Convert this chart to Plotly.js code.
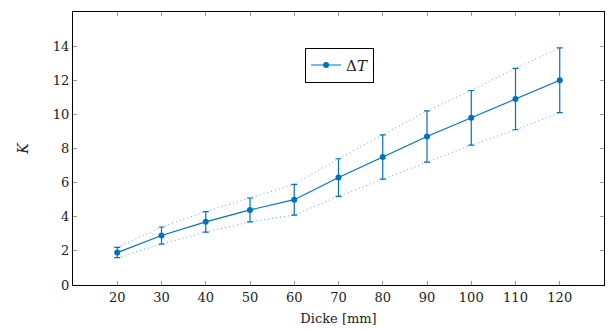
<!DOCTYPE html>
<html>
<head>
<meta charset="utf-8">
<script src="https://cdn.plot.ly/plotly-3.0.1.min.js"></script>
<style>html,body{margin:0;padding:0;background:#fff;}#chart{width:608px;height:331px;}</style>
</head>
<body>
<div id="chart"></div>
<script>
const thickness = [20, 30, 40, 50, 60, 70, 80, 90, 100, 110, 120];
const deltaT = [1.9, 2.9, 3.7, 4.4, 5.0, 6.3, 7.5, 8.7, 9.8, 10.9, 12.0];
const errT = [0.3, 0.5, 0.6, 0.7, 0.9, 1.1, 1.3, 1.5, 1.6, 1.8, 1.9];
const xTicks = [20, 30, 40, 50, 60, 70, 80, 90, 100, 110, 120];
const yTicks = [0, 2, 4, 6, 8, 10, 12, 14];

const blue = '#0072BD';
const lightBlue = '#5fa8dc';
const upper = deltaT.map((v, i) => v + errT[i]);
const lower = deltaT.map((v, i) => v - errT[i]);
const font = 'DejaVu Serif';

const traces = [
  {x: thickness, y: upper, mode: 'lines', line: {color: lightBlue, width: 1, dash: '1px,3px'}, showlegend: false, hoverinfo: 'skip'},
  {x: thickness, y: lower, mode: 'lines', line: {color: lightBlue, width: 1, dash: '1px,3px'}, showlegend: false, hoverinfo: 'skip'},
  {x: thickness, y: deltaT, mode: 'lines+markers', name: 'Δ<i>T</i>',
   line: {color: blue, width: 1.2}, marker: {color: blue, size: 6},
   error_y: {type: 'data', array: errT, visible: true, color: blue, thickness: 1.2, width: 3}}
];

const axisCommon = {
  showline: true, linecolor: '#000', linewidth: 1, mirror: 'ticks',
  ticks: 'inside', ticklen: 4, tickcolor: '#999', tickwidth: 1,
  showgrid: false, zeroline: false, tickfont: {family: font, size: 13, color: '#222'}
};

const layout = {
  width: 608, height: 331,
  margin: {l: 73, r: 4, t: 12, b: 46},
  paper_bgcolor: '#fff', plot_bgcolor: '#fff',
  font: {family: font, color: '#222'},
  xaxis: Object.assign({}, axisCommon, {range: [10, 130], tickmode: 'array', tickvals: xTicks, ticktext: xTicks.map(String),
    title: {text: 'Dicke [mm]', font: {family: font, size: 13, color: '#222'}, standoff: 10}}),
  yaxis: Object.assign({}, axisCommon, {range: [0, 16], tickmode: 'array', tickvals: yTicks, ticktext: yTicks.map(String),
    title: {text: '<i>K</i>', font: {family: font, size: 14, color: '#222'}, standoff: 20}}),
  showlegend: true,
  legend: {x: 0.437, y: 0.869, xanchor: 'left', yanchor: 'top', bordercolor: '#000', borderwidth: 1,
    bgcolor: '#fff', font: {family: font, size: 15, color: '#222'}, itemwidth: 30, tracegroupgap: 0}
};

Plotly.newPlot('chart', traces, layout, {displayModeBar: false, staticPlot: true});
</script>
</body>
</html>
